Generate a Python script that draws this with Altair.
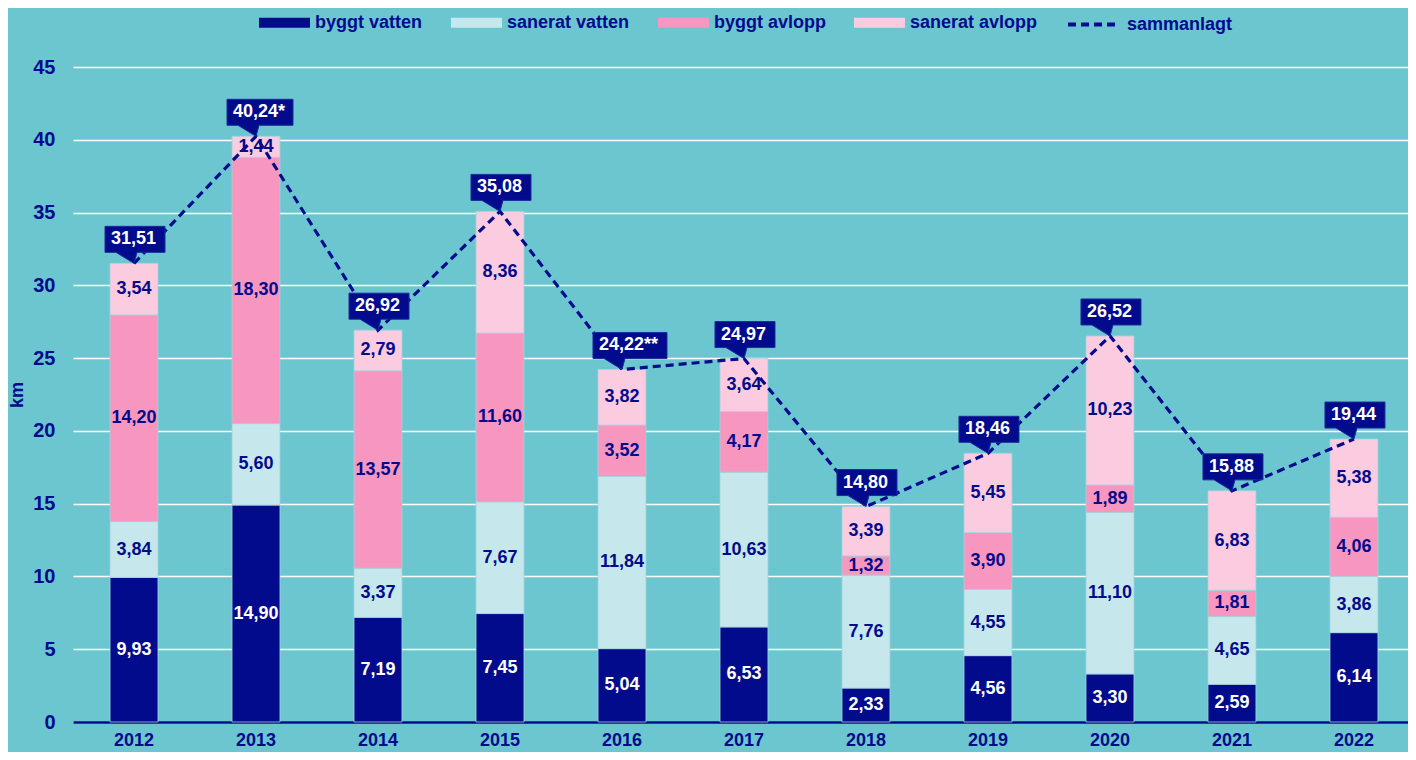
import altair as alt
import pandas as pd

years = ["2012", "2013", "2014", "2015", "2016", "2017", "2018", "2019", "2020", "2021", "2022"]
byggt_vatten = [9.93, 14.90, 7.19, 7.45, 5.04, 6.53, 2.33, 4.56, 3.30, 2.59, 6.14]
sanerat_vatten = [3.84, 5.60, 3.37, 7.67, 11.84, 10.63, 7.76, 4.55, 11.10, 4.65, 3.86]
byggt_avlopp = [14.20, 18.30, 13.57, 11.60, 3.52, 4.17, 1.32, 3.90, 1.89, 1.81, 4.06]
sanerat_avlopp = [3.54, 1.44, 2.79, 8.36, 3.82, 3.64, 3.39, 5.45, 10.23, 6.83, 5.38]
totals = [31.51, 40.24, 26.92, 35.08, 24.22, 24.97, 14.80, 18.46, 26.52, 15.88, 19.44]
total_marks = ["", "*", "", "", "**", "", "", "", "", "", ""]
series_names = ["byggt vatten", "sanerat vatten", "byggt avlopp", "sanerat avlopp"]
line_name = "sammanlagt"
y_ticks = [0, 5, 10, 15, 20, 25, 30, 35, 40, 45]

BG = "#6CC6D0"
NAVY = "#020B8B"
series_colors = ["#020B8B", "#C6E8EC", "#F796BF", "#FBCBDF"]
text_colors = ["#FFFFFF", NAVY, NAVY, NAVY]
FONT = "Liberation Sans"


def fmt(v):
    return f"{v:.2f}".replace(".", ",")


rows = []
series_vals = [byggt_vatten, sanerat_vatten, byggt_avlopp, sanerat_avlopp]
for i, y in enumerate(years):
    base = 0.0
    for k, name in enumerate(series_names):
        v = series_vals[k][i]
        rows.append({
            "year": y, "serie": name, "order": k, "value": v,
            "y0": base, "y1": base + v, "mid": base + v / 2,
            "label": fmt(v), "tcolor": text_colors[k],
        })
        base += v
bars_df = pd.DataFrame(rows)

tot_df = pd.DataFrame({
    "year": years,
    "total": totals,
    "label": [fmt(t) + m for t, m in zip(totals, total_marks)],
    "box": ["s2" if m == "**" else ("s1" if m == "*" else "n") for m in total_marks],
    "line": [line_name] * len(years),
})


def callout(w):
    return f"M0,0L-18,-11L-29,-11L-29,-37L{w - 29},-37L{w - 29},-11L3,-11Z"


x_enc = alt.X(
    "year:N",
    sort=years,
    scale=alt.Scale(paddingInner=0.607, paddingOuter=0.275, align=0.552),
    axis=alt.Axis(
        title=None, labelAngle=0, ticks=False, domain=True, domainColor=NAVY,
        domainWidth=2.5, labelPadding=9, labelFontSize=18, labelFont=FONT,
        labelFontWeight="bold", labelColor=NAVY, grid=False,
    ),
)
y_scale = alt.Scale(domain=[0, 45], nice=False)

bars = alt.Chart(bars_df).mark_bar(stroke="#A4D3DD", strokeWidth=0.8).encode(
    x=x_enc,
    y=alt.Y(
        "y1:Q", scale=y_scale,
        axis=alt.Axis(
            title="km", values=y_ticks, ticks=False, domain=False, grid=True,
            gridColor="white", gridWidth=1.6, labelPadding=18, labelFontSize=20,
            labelFont=FONT, labelFontWeight="bold", labelColor=NAVY,
            titleFont=FONT, titleFontSize=18, titleFontWeight="bold",
            titleColor=NAVY, titlePadding=6,
        ),
    ),
    y2="y0:Q",
    color=alt.Color(
        "serie:N",
        scale=alt.Scale(domain=series_names, range=series_colors),
        legend=alt.Legend(
            title=None, orient="none", direction="horizontal", legendX=186,
            legendY=-70, symbolType="M-1,-0.196H1V0.196H-1Z", symbolSize=2601,
            symbolStrokeWidth=0, labelFont=FONT, labelFontSize=18,
            labelFontWeight="bold", labelColor=NAVY, labelOffset=5,
            columnPadding=28,
        ),
    ),
)

bar_text = alt.Chart(bars_df).mark_text(
    font=FONT, fontSize=18, fontWeight="bold", baseline="middle"
).encode(
    x=alt.X("year:N", sort=years),
    y=alt.Y("mid:Q", scale=y_scale),
    text="label:N",
    color=alt.Color("tcolor:N", scale=None),
)

line = alt.Chart(tot_df).mark_line(color=NAVY, strokeWidth=3.2).encode(
    x=alt.X("year:N", sort=years),
    y=alt.Y("total:Q", scale=y_scale),
    strokeDash=alt.StrokeDash(
        "line:N",
        scale=alt.Scale(domain=[line_name], range=[[8, 5]]),
        legend=alt.Legend(
            title=None, orient="none", legendX=993, legendY=-70,
            symbolType="stroke", symbolSize=2601, symbolStrokeWidth=4,
            symbolStrokeColor=NAVY, symbolDash=[9, 5], labelFont=FONT,
            labelFontSize=18, labelFontWeight="bold", labelColor=NAVY,
            labelOffset=6,
        ),
    ),
)

boxes = alt.Chart(tot_df).mark_point(
    filled=True, fill=NAVY, stroke="#1C2A9C", strokeWidth=1, opacity=1, size=4
).encode(
    x=alt.X("year:N", sort=years),
    y=alt.Y("total:Q", scale=y_scale),
    shape=alt.Shape(
        "box:N",
        scale=alt.Scale(domain=["n", "s1", "s2"], range=[callout(60), callout(66), callout(74)]),
        legend=None,
    ),
)

box_text = alt.Chart(tot_df).mark_text(
    font=FONT, fontSize=18, fontWeight="bold", color="white",
    align="left", baseline="middle", dx=-23, dy=-24,
).encode(
    x=alt.X("year:N", sort=years),
    y=alt.Y("total:Q", scale=y_scale),
    text="label:N",
)

chart = alt.layer(bars, bar_text, line, boxes, box_text).properties(
    width=1335, height=655,
    autosize=alt.AutoSizeParams(type="none"),
    padding={"left": 65, "top": 59, "right": 0, "bottom": 30},
    background=BG,
).configure_view(stroke=None)

chart.save("out.html", embed_options={"renderer": "svg", "actions": False})
